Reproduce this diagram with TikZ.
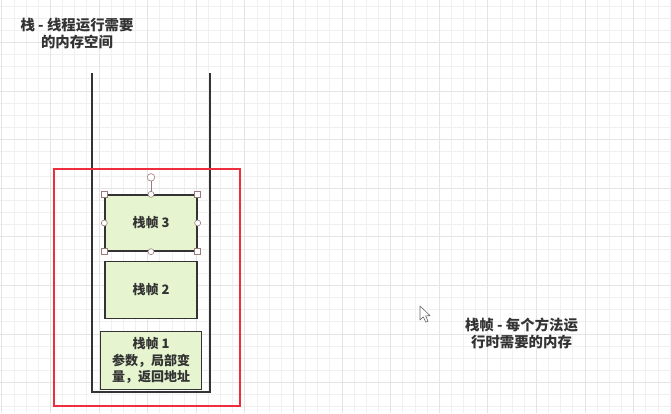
\documentclass[tikz,border=0pt]{standalone}
\usepackage{fontspec}
\setmainfont{Noto Sans CJK SC}
\usetikzlibrary{positioning,calc}
\definecolor{framefill}{HTML}{E6F5D0}
\definecolor{darkline}{HTML}{333333}
\definecolor{alertred}{HTML}{EE2E3C}
\definecolor{handleline}{HTML}{9A7B7B}
\definecolor{gridminor}{HTML}{F0F0F0}
\definecolor{gridmajor}{HTML}{E4E4E4}
\begin{document}
\begin{tikzpicture}[x=1pt, y=-1pt]
        % Style definitions
        \tikzset{
            frame/.style={draw=darkline, fill=framefill, rectangle, line width=1.3pt, minimum width=92pt, minimum height=56pt, align=center, inner sep=0pt, text=darkline, font=\bfseries\fontsize{13}{16.5}\selectfont},
            note/.style={align=center, inner sep=0pt, text=darkline, font=\bfseries\fontsize{14.4}{17.2}\selectfont},
            grip/.style={draw=handleline, fill=white, circle, minimum size=6pt, inner sep=0pt, line width=0.6pt},
            cornergrip/.style={draw=handleline, fill=white, rectangle, minimum size=6pt, inner sep=0pt, line width=0.6pt}
        }
        \useasboundingbox (0,0) rectangle (671,413);
        \fill [white] (0,0) rectangle (671,413);

        % Background grid
        \foreach \k in {0,...,55}
            \draw [gridminor, line width=0.8pt] ({1.8+12.15*\k},0) -- ({1.8+12.15*\k},413);
        \foreach \k in {0,...,33}
            \draw [gridminor, line width=0.8pt] (0,{5.9+12.15*\k}) -- (671,{5.9+12.15*\k});
        \foreach \k in {0,4,...,52}
            \draw [gridmajor, line width=0.8pt] ({1.8+12.15*\k},0) -- ({1.8+12.15*\k},413);
        \foreach \k in {3,7,...,31}
            \draw [gridmajor, line width=0.8pt] (0,{5.9+12.15*\k}) -- (671,{5.9+12.15*\k});

        % Stack
        \draw [darkline, line width=1.3pt] (92,73) -- (92,392) -- (210,392) -- (210,73);

        % Nodes
        \node [frame] (f3) at (151,223) {栈帧 3};
        \node [frame, minimum height=57pt, below=9pt of f3] (f2) {栈帧 2};
        \node [frame, minimum width=101pt, minimum height=58pt, below=12pt of f2] (f1) {栈帧 1\\参数，局部变\\量，返回地址};

        \node [note] (stacknote) at (77,33.5) {栈 - 线程运行需要\\的内存空间};
        \node [note] (framenote) at (521.5,333.5) {栈帧 - 每个方法运\\行时需要的内存};

        % Highlight box
        \draw [alertred, line width=2.6pt] (54,169) rectangle (240,406);

        % Selection handles
        \coordinate (turn) at ($(f3.north)+(0,-17)$);
        \draw [handleline, line width=0.8pt] (f3.north) -- (turn);
        \node [grip, minimum size=7.5pt] at (turn) {};
        \foreach \a in {north, east, south, west}
            \node [grip] at (f3.\a) {};
        \foreach \a in {north west, north east, south east, south west}
            \node [cornergrip] at (f3.\a) {};

        % Pointer
        \draw [fill=white, draw=gray!80!black, line width=0.6pt, line join=round] (420,306) -- (420,320) -- (423.3,316.8) -- (425.8,322.2) -- (428,321.2) -- (425.6,315.9) -- (430,315.6) -- cycle;
\end{tikzpicture}
\end{document}
